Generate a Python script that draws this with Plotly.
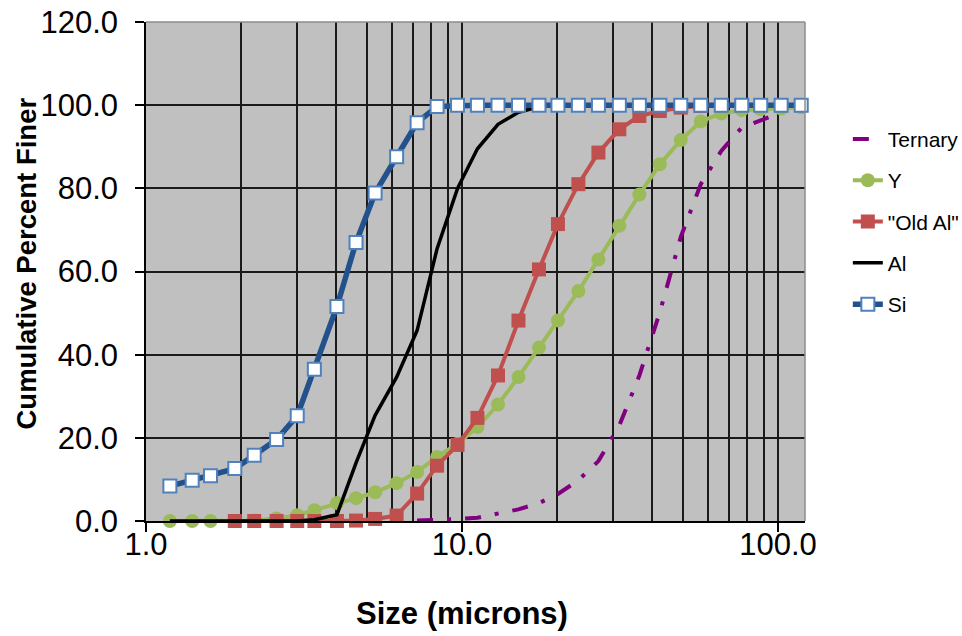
import plotly.graph_objects as go

# ---- data ----
size_um = [1.19, 1.40, 1.60, 1.91, 2.20, 2.59, 3.01, 3.41, 4.02, 4.62, 5.31, 6.21,
           7.21, 8.34, 9.68, 11.19, 13.0, 15.09, 17.52, 20.12, 23.35, 27.02, 31.47,
           36.41, 42.27, 49.24, 56.97, 66.14, 76.78, 88.17, 102.3, 118.4]

ternary = [None] * 12 + [0.1, 0.2, 0.5, 0.8, 1.7, 2.8, 4.3, 6.5, 9.8, 14.4, 23.0,
                         35.0, 50.2, 68.3, 81.0, 89.0, 94.6, 96.3, 98.2, 99.6]

y_series = [0, 0, 0, 0, 0.1, 0.6, 1.4, 2.6, 4.3, 5.5, 6.9, 9.1, 11.8, 15.4, 18.6,
            22.6, 28.0, 34.6, 41.7, 48.2, 55.3, 62.9, 71.0, 78.5, 85.8, 91.6, 96.1,
            98.0, 98.8, 99.0, 99.2, 99.5]

old_al = [None] * 3 + [0, 0, 0, 0, 0, 0, 0.1, 0.5, 1.3, 6.6, 13.3, 18.3, 24.8, 35.0,
                       48.2, 60.5, 71.4, 81.0, 88.6, 94.2, 97.4, 98.6, 99.4, 99.8,
                       100, 100, 100, 100, 100]

al = [0, 0, 0, 0, 0, 0, 0, 0.3, 1.5, 14.0, 25.4, 34.6, 45.8, 65.5, 80.0, 89.5, 95.4,
      98.3, 99.6, 100, 100, 100, 100, 100, 100, 100, 100, 100, 100, 100, 100, 100]

si = [8.4, 9.8, 10.9, 12.6, 15.8, 19.6, 25.3, 36.5, 51.6, 67.0, 78.9, 87.6, 95.8,
      99.7, 100, 100, 100, 100, 100, 100, 100, 100, 100, 100, 100, 100, 100, 100,
      100, 100, 100, 100]

x_ticks = [1, 10, 100]
x_ticktext = ["1.0", "10.0", "100.0"]
x_minor = [2, 3, 4, 5, 6, 7, 8, 9, 20, 30, 40, 50, 60, 70, 80, 90]
y_ticks = [0, 20, 40, 60, 80, 100, 120]

fig = go.Figure()
fig.add_trace(go.Scatter(
    x=size_um, y=ternary, name="Ternary", mode="lines", legendgroup="g1",
    line=dict(color="#800080", width=4, dash="16px,14px,4px,14px"), cliponaxis=False))
fig.add_trace(go.Scatter(
    x=size_um, y=y_series, name="Y", mode="lines+markers", legendgroup="g2",
    line=dict(color="#9BBB59", width=4),
    marker=dict(symbol="circle", size=14, color="#9BBB59"), cliponaxis=False))
fig.add_trace(go.Scatter(
    x=size_um, y=old_al, name='"Old Al"', mode="lines+markers", legendgroup="g3",
    line=dict(color="#C0504D", width=4),
    marker=dict(symbol="square", size=14, color="#C0504D"), cliponaxis=False))
fig.add_trace(go.Scatter(
    x=size_um, y=al, name="Al", mode="lines", legendgroup="g4",
    line=dict(color="black", width=3.5), cliponaxis=False))
fig.add_trace(go.Scatter(
    x=size_um, y=si, name="Si", mode="lines+markers", legendgroup="g5",
    line=dict(color="#22518C", width=5.5),
    marker=dict(symbol="square", size=13, color="white",
                line=dict(color="#4F81BD", width=2)), cliponaxis=False))

grid_col = "#1a1a1a"
fig.update_layout(
    width=980, height=636,
    margin=dict(l=146, r=175, t=22, b=115),
    paper_bgcolor="white", plot_bgcolor="#C0C0C0",
    font=dict(family="Liberation Sans, Arial, sans-serif", color="black"),
    showlegend=True,
    legend=dict(x=1.065, y=0.806, xanchor="left", yanchor="top",
                font=dict(size=21), tracegroupgap=11,
                bgcolor="rgba(0,0,0,0)"),
    xaxis=dict(
        type="log", range=[0, 2.0854], automargin=False,
        tickvals=x_ticks, ticktext=x_ticktext,
        ticks="outside", ticklen=9, tickwidth=1.5, tickcolor="black",
        showline=True, linecolor="black", linewidth=1.5,
        showgrid=True, gridcolor=grid_col, gridwidth=1.5, zeroline=False,
        minor=dict(tickvals=x_minor, showgrid=True, gridcolor=grid_col,
                   gridwidth=1.5, ticks=""),
        tickfont=dict(size=31), ticklabelstandoff=-14,
    ),
    yaxis=dict(
        range=[0, 120], tickvals=y_ticks, tickformat=".1f", automargin=False,
        ticks="outside", ticklen=9, tickwidth=1.5, tickcolor="black",
        showline=True, linecolor="black", linewidth=1.5,
        showgrid=True, gridcolor=grid_col, gridwidth=1.5, zeroline=False,
        tickfont=dict(size=31), ticklabelstandoff=11,
    ),
    annotations=[
        dict(text="Size (microns)", xref="paper", yref="paper",
             x=(462 - 146) / 659, y=(521 - 613) / 499,
             xanchor="center", yanchor="middle", showarrow=False,
             font=dict(size=31, weight="bold")),
        dict(text="Cumulative Percent Finer", xref="paper", yref="paper",
             x=(26 - 146) / 659, y=(521 - 263.5) / 499, textangle=-90,
             xanchor="center", yanchor="middle", showarrow=False,
             font=dict(size=27.5, weight="bold")),
    ],
    shapes=[
        dict(type="line", xref="paper", yref="paper", x0=0, x1=1, y0=1, y1=1,
             line=dict(color="#8c8c8c", width=1.5)),
        dict(type="line", xref="paper", yref="paper", x0=1, x1=1, y0=0, y1=1,
             line=dict(color="#8c8c8c", width=1.5)),
    ],
)

fig.write_html("out.html",
               config={"displayModeBar": False},
               post_script="document.body.style.margin='0px';document.body.style.overflow='hidden';")
